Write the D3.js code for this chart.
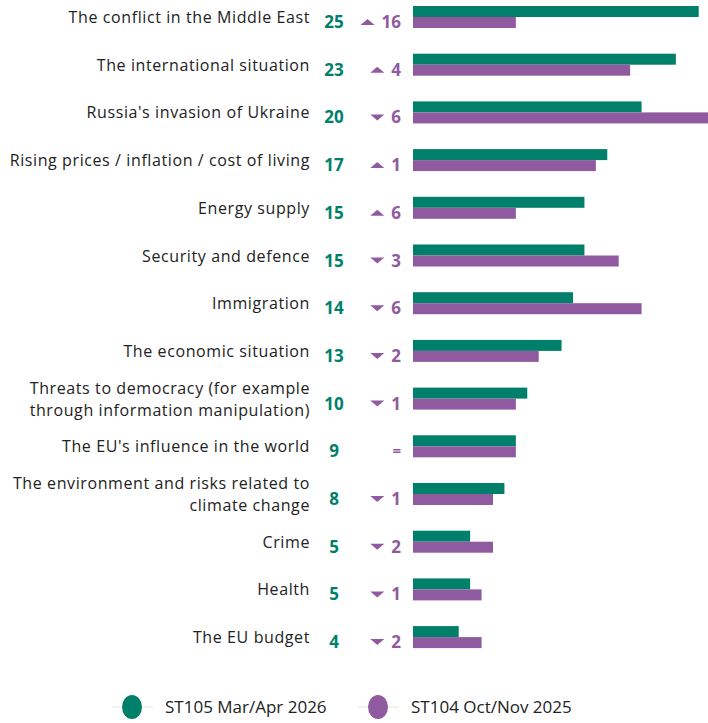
<!DOCTYPE html>
<html lang="en">
<head>
<meta charset="UTF-8">
<title>Issues facing the EU</title>
<script src="https://cdnjs.cloudflare.com/ajax/libs/d3/7.8.5/d3.min.js"></script>
<style>
  body { margin: 0; background: #fff; }
  svg { display: block; font-family: "Open Sans", sans-serif; }
</style>
</head>
<body>
<div id="chart"></div>
<script>
// categories (label lines)
var categories = [
    ["The conflict in the Middle East"],
    ["The international situation"],
    ["Russia's invasion of Ukraine"],
    ["Rising prices / inflation / cost of living"],
    ["Energy supply"],
    ["Security and defence"],
    ["Immigration"],
    ["The economic situation"],
    ["Threats to democracy (for example", "through information manipulation)"],
    ["The EU's influence in the world"],
    ["The environment and risks related to", "climate change"],
    ["Crime"],
    ["Health"],
    ["The EU budget"]
];
var current = [25, 23, 20, 17, 15, 15, 14, 13, 10, 9, 8, 5, 5, 4];   // ST105
var previous = [9, 19, 26, 16, 9, 18, 20, 11, 9, 9, 7, 7, 6, 6];    // ST104
var change = [16, 4, -6, 1, 6, -3, -6, -2, -1, 0, -1, -2, -1, -2];  // as printed
var seriesNames = ["ST105 Mar/Apr 2026", "ST104 Oct/Nov 2025"];

var green = "#00806b";
var purple = "#8f5aa0";
var w = 708, h = 723;

var svg = d3.select("#chart").append("svg")
    .attr("width", w)
    .attr("height", h);

var ids = categories.map(function(d, i) { return i; });

var y0 = d3.scaleBand()
    .domain(ids)
    .range([6, 6 + 14 * 47.7]);

var y1 = d3.scaleBand()
    .domain(["cur", "prev"])
    .range([0, 22]);

var x = d3.scaleLinear()
    .domain([0, 25])
    .range([413, 698.7]);

var rows = svg.selectAll("g.row")
    .data(ids)
    .enter().append("g")
    .attr("class", "row")
    .attr("transform", function(i) { return "translate(0," + y0(i) + ")"; });

// bars
rows.append("rect")
    .attr("x", x(0))
    .attr("y", y1("cur"))
    .attr("width", function(i) { return x(current[i]) - x(0); })
    .attr("height", y1.bandwidth())
    .attr("fill", green);

rows.append("rect")
    .attr("x", x(0))
    .attr("y", y1("prev"))
    .attr("width", function(i) { return x(previous[i]) - x(0); })
    .attr("height", y1.bandwidth())
    .attr("fill", purple);

// labels, values and changes
rows.each(function(i) {
    var g = d3.select(this);
    var lines = categories[i];
    var cy = 11;
    var t = g.append("text")
        .attr("text-anchor", "end")
        .attr("font-size", "16px")
        .attr("letter-spacing", "0.6px")
        .attr("fill", "#222");
    lines.forEach(function(l, k) {
        var base = lines.length == 1 ? cy + 6 : cy - 5 + k * 22;
        t.append("tspan")
            .attr("x", 310)
            .attr("y", base)
            .text(l);
    });

    g.append("text")
        .attr("x", 334)
        .attr("y", cy + 11)
        .attr("text-anchor", "middle")
        .attr("font-size", "17px")
        .attr("font-weight", "bold")
        .attr("fill", green)
        .text(current[i]);

    var c = change[i];
    if (c === 0) {
        g.append("text")
            .attr("x", 401)
            .attr("y", cy + 10)
            .attr("text-anchor", "end")
            .attr("font-size", "15px")
            .attr("font-weight", "bold")
            .attr("fill", purple)
            .text("=");
    } else {
        var num = g.append("text")
            .attr("x", 401)
            .attr("y", cy + 11)
            .attr("text-anchor", "end")
            .attr("font-size", "17px")
            .attr("font-weight", "bold")
            .attr("fill", purple)
            .text(Math.abs(c));
        var left = 401 - num.node().getComputedTextLength() - 7;
        var tri = c > 0
            ? "M" + (left - 14) + "," + (cy + 8) + "L" + left + "," + (cy + 8) + "L" + (left - 7) + "," + (cy + 2) + "Z"
            : "M" + (left - 14) + "," + (cy + 2) + "L" + left + "," + (cy + 2) + "L" + (left - 7) + "," + (cy + 8) + "Z";
        g.append("path")
            .attr("d", tri)
            .attr("fill", purple);
    }
});

// legend
var legend = svg.selectAll("g.legend")
    .data(seriesNames)
    .enter().append("g")
    .attr("class", "legend")
    .attr("transform", function(d, i) { return "translate(" + (132 + i * 246) + ",707)"; });

legend.append("line")
    .attr("x1", -20).attr("x2", 21)
    .attr("stroke", "#e4e4e4")
    .attr("stroke-width", 1);

legend.append("ellipse")
    .attr("rx", 10)
    .attr("ry", 12)
    .attr("fill", function(d, i) { return i == 0 ? green : purple; });

legend.append("text")
    .attr("x", 33)
    .attr("y", 6)
    .attr("font-size", "17px")
    .attr("fill", "#222")
    .text(function(d) { return d; });
</script>
</body>
</html>
